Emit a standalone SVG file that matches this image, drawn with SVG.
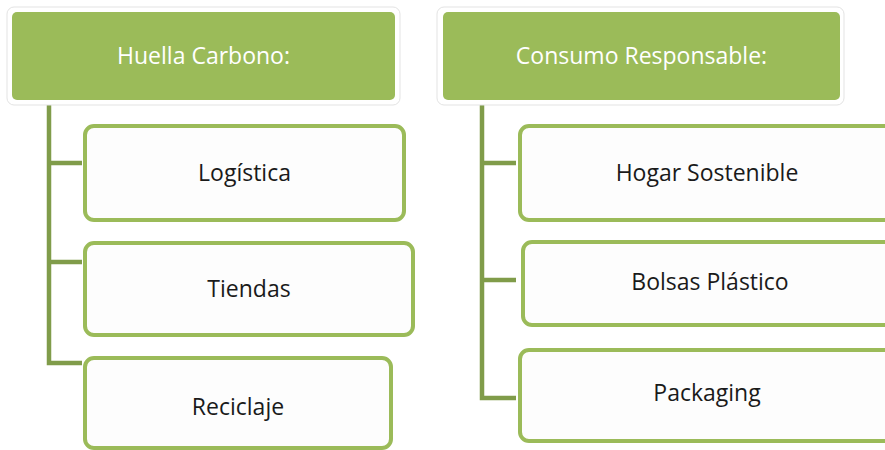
<svg xmlns="http://www.w3.org/2000/svg" width="885" height="450" viewBox="0 0 885 450">
<style>
.hdrout{fill:#ffffff;stroke:#e3e3e3;stroke-width:1}
.hdr{fill:#9BBB59}
.hdrt{fill:#ffffff;font-family:"Open Sans","Liberation Sans",sans-serif;font-size:23px;text-anchor:middle;font-variant-ligatures:none}
.box{fill:#fdfdfd;stroke:#9BBB59;stroke-width:4}
.t{fill:#1a1a1a;font-family:"Open Sans","Liberation Sans",sans-serif;font-size:23px;text-anchor:middle;font-variant-ligatures:none}
.conn{fill:none;stroke:#809C4A;stroke-width:4.5}
</style>
<rect width="885" height="450" fill="#ffffff"/>
<g id="connectors">
<path class="conn" d="M49,100 V363 H82 M49,163 H82 M49,262 H82"/>
<path class="conn" d="M482,100 V398 H516 M482,163 H516 M482,280 H516"/>
</g>
<g id="huella">
<rect class="hdrout" x="7" y="7" width="393" height="98" rx="7"/>
<rect class="hdr" x="12" y="12" width="383" height="88" rx="5"/>
<text class="hdrt" x="203.5" y="64">Huella Carbono:</text>
</g>
<g id="logistica">
<rect class="box" x="85" y="126" width="319" height="94" rx="9"/>
<text class="t" x="244.5" y="181">Logística</text>
</g>
<g id="tiendas">
<rect class="box" x="85" y="243" width="328" height="92" rx="9"/>
<text class="t" x="249" y="297">Tiendas</text>
</g>
<g id="reciclaje">
<rect class="box" x="85" y="358" width="306" height="90" rx="9"/>
<text class="t" x="238" y="415">Reciclaje</text>
</g>
<g id="consumo">
<rect class="hdrout" x="437" y="7" width="407" height="98" rx="7"/>
<rect class="hdr" x="443" y="12" width="397" height="88" rx="5"/>
<text class="hdrt" x="641.5" y="64">Consumo Responsable:</text>
</g>
<g id="hogar">
<rect class="box" x="520" y="126" width="380" height="94" rx="9"/>
<text class="t" x="707" y="181">Hogar Sostenible</text>
</g>
<g id="bolsas">
<rect class="box" x="523" y="242" width="380" height="83" rx="9"/>
<text class="t" x="710" y="290">Bolsas Plástico</text>
</g>
<g id="packaging">
<rect class="box" x="520" y="350" width="380" height="91" rx="9"/>
<text class="t" x="707" y="401">Packaging</text>
</g>
</svg>
